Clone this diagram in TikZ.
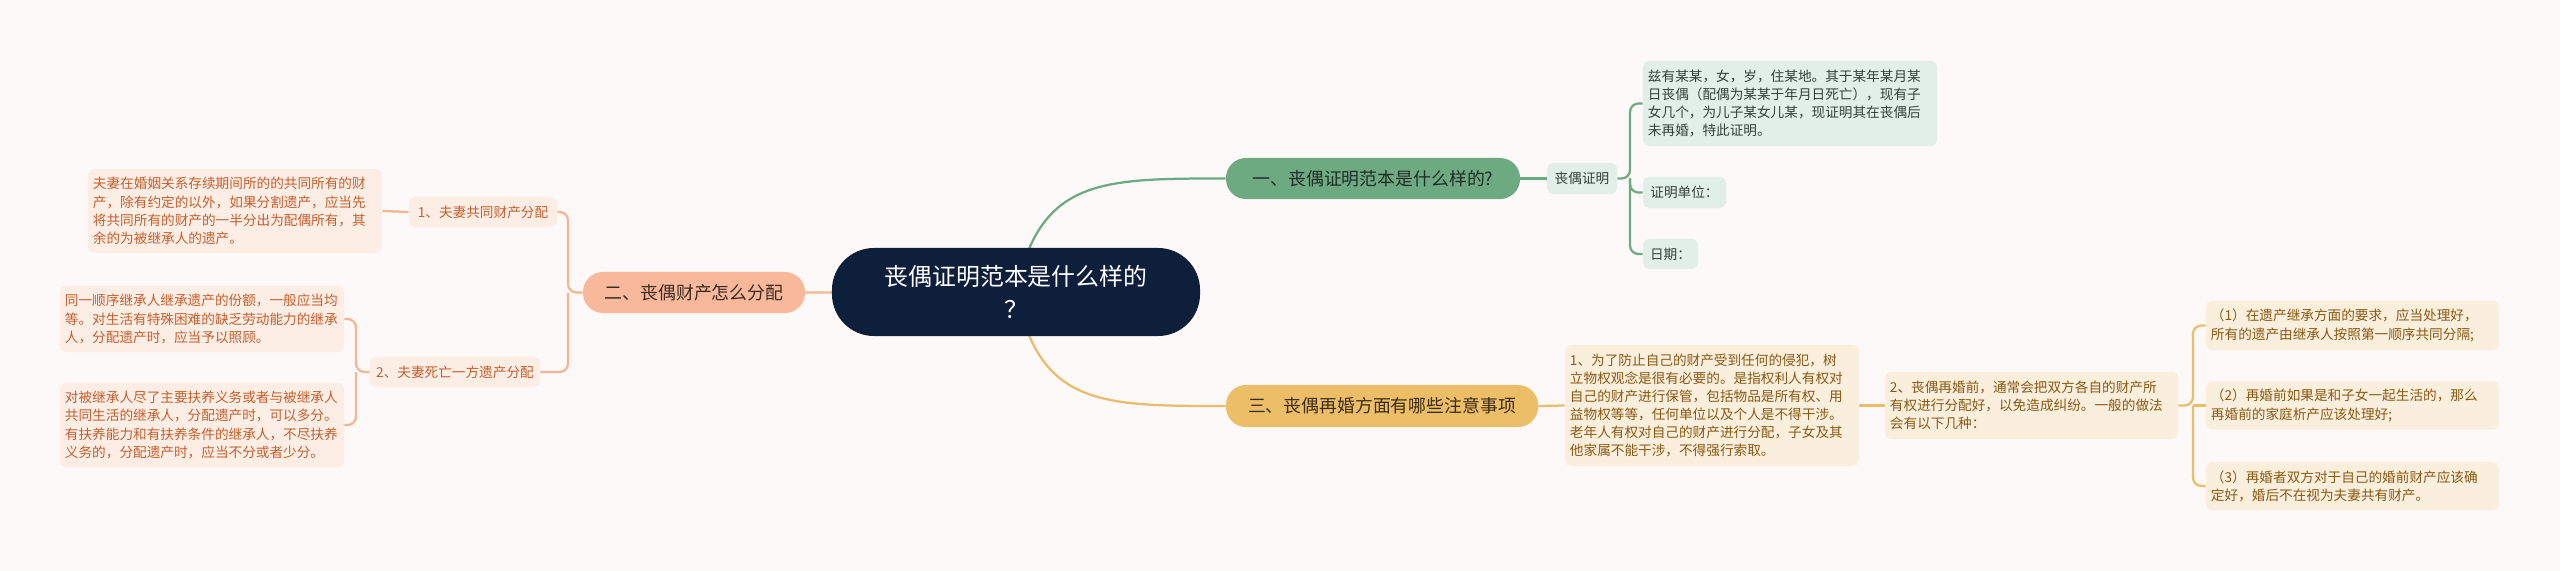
\documentclass[tikz,border=0pt]{standalone}
\usepackage{fontspec}
\newfontfamily\cjk{Noto Sans CJK SC}
\usepackage{xcolor}
\usepackage{tikz}
\usetikzlibrary{backgrounds}
\definecolor{mapbg}{HTML}{FDF9F8}
\definecolor{mapnavy}{HTML}{0E1F3B}
\definecolor{mapgreen}{HTML}{6DAA82}
\definecolor{mapgreenlt}{HTML}{E2EFE6}
\definecolor{mapgreendk}{HTML}{1F2E25}
\definecolor{mapgray}{HTML}{34403A}
\definecolor{mapsalmon}{HTML}{F7B999}
\definecolor{mapsalmonln}{HTML}{F2B693}
\definecolor{mapsalmonlt}{HTML}{FCEDE5}
\definecolor{mapsalmondk}{HTML}{3D2A20}
\definecolor{maporange}{HTML}{C4602E}
\definecolor{mapgold}{HTML}{EDBE68}
\definecolor{mapgoldln}{HTML}{E9BD6C}
\definecolor{mapgoldlt}{HTML}{FAEEDC}
\definecolor{mapgolddk}{HTML}{3B2C12}
\definecolor{mapbrown}{HTML}{8A5A14}

\begin{document}
\begin{tikzpicture}[
    x=0.025cm,y=-0.025cm,
    root/.style  = {rectangle,rounded corners=1.05cm,fill=mapnavy,text=white,
                    font=\cjk\fontsize{17pt}{23.4pt}\selectfont,align=center,
                    minimum width=9.2cm,minimum height=2.2cm},
    topic/.style = {rectangle,rounded corners=0.5cm,align=center,
                    font=\cjk\fontsize{12.7pt}{15pt}\selectfont,
                    minimum height=1.025cm},
    leaf/.style  = {rectangle,rounded corners=4pt,align=left,inner xsep=0.125cm,
                    inner ysep=0pt,font=\cjk\fontsize{9.7pt}{12.9pt}\selectfont},
    tag/.style   = {leaf,align=center,inner xsep=1pt},
    gleaf/.style = {leaf,fill=mapgreenlt,text=mapgray},
    gtag/.style  = {tag,fill=mapgreenlt,text=mapgray},
    oleaf/.style = {leaf,fill=mapsalmonlt,text=maporange},
    otag/.style  = {tag,fill=mapsalmonlt,text=maporange},
    yleaf/.style = {leaf,fill=mapgoldlt,text=mapbrown},
    link/.style  = {line width=1.6pt,rounded corners=6pt},
    glink/.style = {link,draw=mapgreen},
    olink/.style = {link,draw=mapsalmonln},
    ylink/.style = {link,draw=mapgoldln},
  ]
  \useasboundingbox (0,0) rectangle (2560,571);

  % ── Racine ──────────────────────────────────────────────────────────────
  \node[root] (root) at (1016,292) {丧偶证明范本是什么样的\\？};

  % ── Branche 1 : modèle ──────────────────────────────────────────────────
  \node[topic,fill=mapgreen,text=mapgreendk,minimum width=7.35cm] (t1) at (1373,178.5)
       {一、丧偶证明范本是什么样的?};
  \node[gtag,minimum width=1.75cm,minimum height=0.775cm] (gsub) at (1582,178.5) {丧偶证明};
  \node[gleaf,text width=7.1cm,minimum height=2.125cm] (gl1) at (1790,103.5)
       {兹有某某，女，岁，住某地。其于某年某月某\\日丧偶（配偶为某某于年月日死亡），现有子\\女几个，为儿子某女儿某，现证明其在丧偶后\\未再婚，特此证明。};
  \node[gtag,minimum width=2.075cm,minimum height=0.775cm] (gl2) at (1684.5,192.5) {证明单位：};
  \node[gtag,minimum width=1.375cm,minimum height=0.75cm] (gl3) at (1670.5,254) {日期：};
  \coordinate (gj) at (1630,178.5);

  % ── Branche 2 : partage ─────────────────────────────────────────────────
  \node[topic,fill=mapsalmon,text=mapsalmondk,minimum width=5.55cm] (t2) at (694,292.5)
       {二、丧偶财产怎么分配};
  \node[otag,minimum width=3.7cm,minimum height=0.75cm] (os1) at (483,212) {1、夫妻共同财产分配};
  \node[oleaf,text width=7.1cm,minimum height=2.1cm] (ol1) at (235,211)
       {夫妻在婚姻关系存续期间所的的共同所有的财\\产，除有约定的以外，如果分割遗产，应当先\\将共同所有的财产的一半分出为配偶所有，其\\余的为被继承人的遗产。};
  \node[otag,minimum width=4.25cm,minimum height=0.75cm] (os2) at (455,372) {2、夫妻死亡一方遗产分配};
  \node[oleaf,text width=6.85cm,minimum height=1.65cm] (ola) at (202,319)
       {同一顺序继承人继承遗产的份额，一般应当均\\等。对生活有特殊困难的缺乏劳动能力的继承\\人，分配遗产时，应当予以照顾。};
  \node[oleaf,text width=6.85cm,minimum height=2.1cm] (olb) at (202,425)
       {对被继承人尽了主要扶养义务或者与被继承人\\共同生活的继承人，分配遗产时，可以多分。\\有扶养能力和有扶养条件的继承人，不尽扶养\\义务的，分配遗产时，应当不分或者少分。};
  \coordinate (oj) at (568,292.5);
  \coordinate (oj2) at (356,372);

  % ── Branche 3 : remariage ───────────────────────────────────────────────
  \node[topic,fill=mapgold,text=mapgolddk,minimum width=7.8cm,minimum height=1.05cm] (t3) at (1382,406)
       {三、丧偶再婚方面有哪些注意事项};
  \node[yleaf,text width=7.1cm,minimum height=3.025cm] (yl1) at (1712,405.5)
       {1、为了防止自己的财产受到任何的侵犯，树\\立物权观念是很有必要的。是指权利人有权对\\自己的财产进行保管，包括物品是所有权、用\\益物权等等，任何单位以及个人是不得干涉。\\老年人有权对自己的财产进行分配，子女及其\\他家属不能干涉，不得强行索取。};
  \node[yleaf,text width=7.075cm,minimum height=1.675cm] (ys2) at (2031.5,405.5)
       {2、丧偶再婚前，通常会把双方各自的财产所\\有权进行分配好，以免造成纠纷。一般的做法\\会有以下几种：};
  \node[yleaf,text width=7.075cm,minimum height=1.225cm] (ya) at (2352.5,325.5)
       {（1）在遗产继承方面的要求，应当处理好，\\所有的遗产由继承人按照第一顺序共同分隔;};
  \node[yleaf,text width=7.075cm,minimum height=1.2cm] (yb) at (2352.5,405.5)
       {（2）再婚前如果是和子女一起生活的，那么\\再婚前的家庭析产应该处理好;};
  \node[yleaf,text width=7.075cm,minimum height=1.2cm] (yc) at (2352.5,486)
       {（3）再婚者双方对于自己的婚前财产应该确\\定好，婚后不在视为夫妻共有财产。};
  \coordinate (yj) at (2193,405.5);

  % ── Liens ───────────────────────────────────────────────────────────────
  \begin{scope}[on background layer]
    \fill[mapbg] (0,0) rectangle (2560,571);
    \draw[glink] (root.center) .. controls (1040,178.5) and (1100,178.5) .. (t1.west);
    \draw[ylink] (root.center) .. controls (1040,406) and (1100,406) .. (t3.west);
    \draw[olink] (root.center) -- (t2.east);

    \draw[glink] (t1.east) -- (gsub.west);
    \draw[glink] (gsub.east) -- (gj) |- (gl1.west);
    \draw[glink] (gj) |- (gl2.west);
    \draw[glink] (gj) |- (gl3.west);

    \draw[olink] (t2.west) -- (oj) |- (os1.east);
    \draw[olink] (oj) |- (os2.east);
    \draw[olink] (os1.west) -- (ol1.east);
    \draw[olink] (os2.west) -- (oj2) |- (ola.east);
    \draw[olink] (oj2) |- (olb.east);

    \draw[ylink] (t3.east) -- (yl1.west);
    \draw[ylink] (yl1.east) -- (ys2.west);
    \draw[ylink] (ys2.east) -- (yj) |- (ya.west);
    \draw[ylink] (yj) -- (yb.west);
    \draw[ylink] (yj) |- (yc.west);
  \end{scope}

\end{tikzpicture}
\end{document}
